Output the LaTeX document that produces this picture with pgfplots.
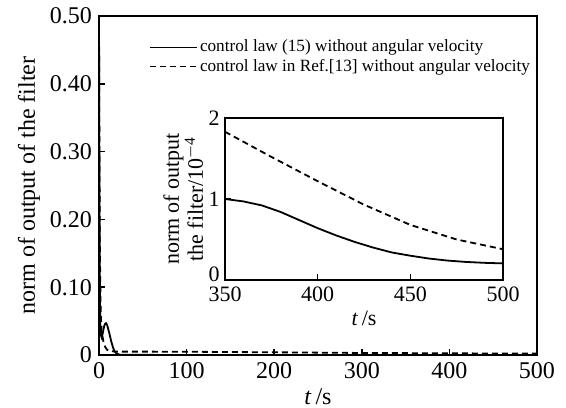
\documentclass[border=0pt]{standalone}
\usepackage{pgfplots}
\pgfplotsset{compat=1.18}
\usepackage{fontspec}
\setmainfont{Liberation Serif}
\begin{document}
\begin{tikzpicture}
\useasboundingbox (-49.5pt,-26pt) rectangle (233.5pt,177.5pt);
\begin{axis}[
  at={(0pt,0pt)}, anchor=south west,
  scale only axis, width=219pt, height=169.5pt,
  xmin=0, xmax=500, ymin=0, ymax=0.5,
  xtick={0,100,200,300,400,500},
  ytick={0,0.1,0.2,0.3,0.4,0.5},
  yticklabels={0,0.10,0.20,0.30,0.40,0.50},
  tick align=inside, tick pos=left, major tick length=3pt,
  axis line style={line width=1.1pt, black},
  every tick/.style={line width=0.8pt, black},
  /pgf/number format/assume math mode=true,
  ticklabel style={font=\fontsize{12}{14}\selectfont},
  xlabel={\textit{t}\,/s},
  ylabel={norm of output of the filter},
  label style={font=\fontsize{12}{14}\selectfont},
  xlabel style={at={(axis description cs:0.5,-0.122)}, anchor=center, inner sep=0.5pt},
  ylabel style={at={(axis description cs:-0.16,0.5)}, anchor=center},
  legend style={at={(0.1,0.948)}, anchor=north west, draw=none, fill=none,
    font=\fontsize{8.6}{9.5}\selectfont, row sep=0pt,
    nodes={inner sep=1pt}},
  legend cell align=left,
  legend image code/.code={\draw[#1] (0pt,0pt) -- (23.5pt,0pt);},
]
\addplot[black, line width=0.9pt] coordinates {
 (0,0.5) (0.5,0.25) (1,0.1) (1.5,0.045) (2,0.03) (3,0.026) (4,0.03) (5,0.037)
 (6,0.043) (7,0.046) (8,0.047) (9,0.045) (10,0.041) (12,0.031) (14,0.02)
 (16,0.011) (18,0.005) (20,0.002) (24,0.0005) (30,0.0002) (100,0.0001) (500,0.0)
};
\addlegendentry{control law (15) without angular velocity}
\addplot[black, line width=0.9pt, dash pattern=on 3pt off 2pt] coordinates {
 (0,0.5) (0.5,0.3) (1,0.15) (2,0.06) (3,0.035) (5,0.02) (7,0.012) (9,0.008)
 (12,0.006) (15,0.0055) (20,0.005) (50,0.005) (100,0.0048) (200,0.004)
 (300,0.003) (400,0.0025) (500,0.002)
};
\addlegendentry{control law in Ref.[13] without angular velocity}
\end{axis}
\begin{axis}[
  at={(63pt,37.5pt)}, anchor=south west,
  scale only axis, width=139pt, height=81pt,
  xmin=350, xmax=500, ymin=0, ymax=2,
  xtick={350,400,450,500}, ytick={1,2},
  extra y ticks={0},
  extra y tick style={yticklabel style={yshift=2.8pt}},
  tick align=inside, tick pos=left, major tick length=3pt,
  axis background/.style={fill=white},
  axis line style={line width=0.9pt, black},
  every tick/.style={line width=0.8pt, black},
  /pgf/number format/assume math mode=true,
  ticklabel style={font=\fontsize{11}{13}\selectfont, inner sep=0.5pt},
  xticklabel style={yshift=-2.5pt},
  yticklabel style={xshift=-2pt},
  xlabel={\textit{t}\,/s},
  ylabel={norm of output\\the filter/10\textsuperscript{$-$4}},
  label style={font=\fontsize{11}{12}\selectfont},
  xlabel style={at={(axis description cs:0.5,-0.235)}, anchor=center},
  ylabel style={at={(axis description cs:-0.15,0.5)}, anchor=center, align=center},
]
\addplot[black, line width=0.9pt] coordinates {
 (350,1.0) (360,0.97) (370,0.92) (380,0.84) (390,0.74) (400,0.64) (410,0.55)
 (420,0.47) (430,0.40) (440,0.34) (450,0.30) (460,0.265) (470,0.24)
 (480,0.223) (490,0.212) (500,0.205)
};
\addplot[black, line width=0.9pt, dash pattern=on 3pt off 2pt] coordinates {
 (350,1.83) (375,1.52) (400,1.22) (425,0.93) (450,0.68) (475,0.50) (500,0.38)
};
\end{axis}
\end{tikzpicture}
\end{document}
